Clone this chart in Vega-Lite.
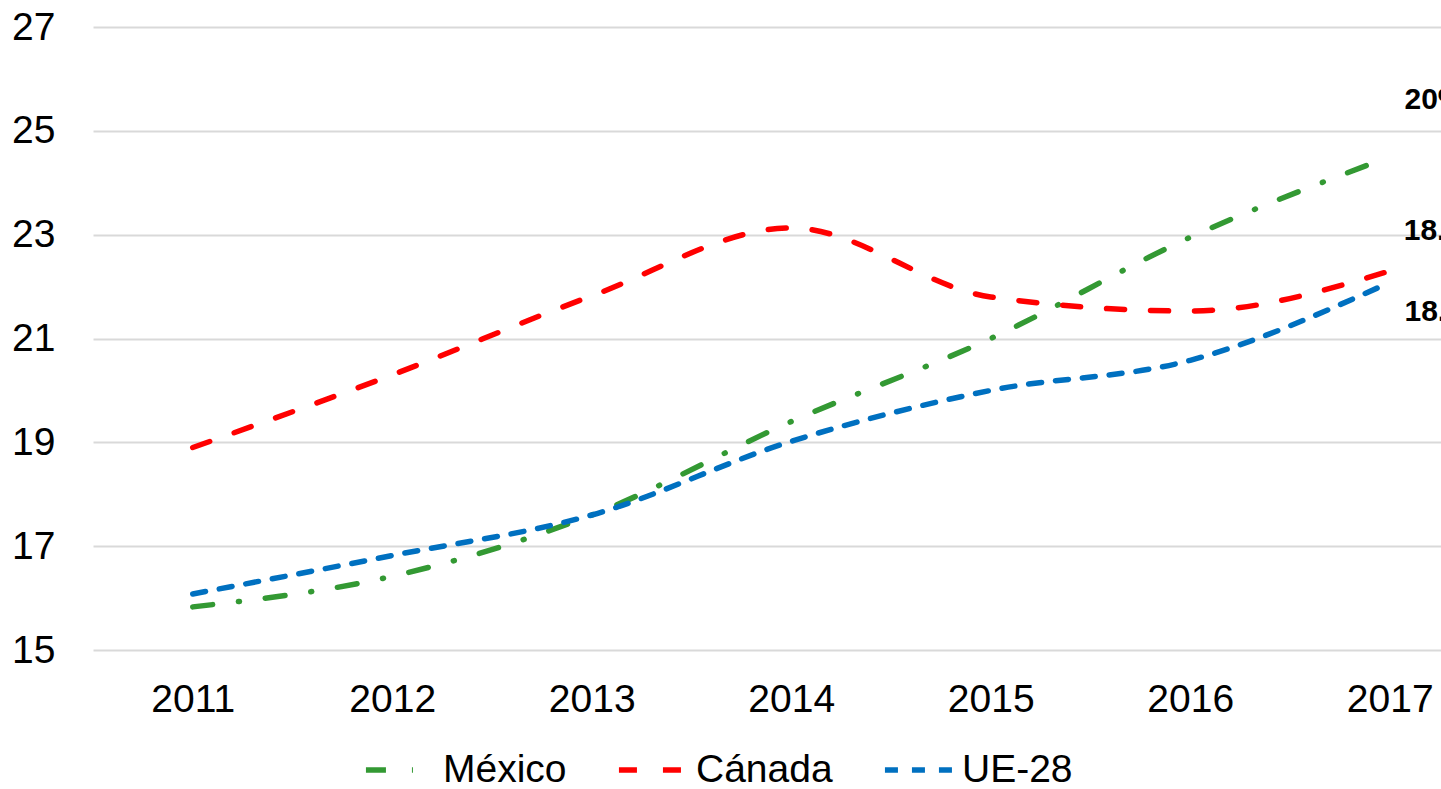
{
  "$schema": "https://vega.github.io/schema/vega-lite/v6.json",
  "width": 1348,
  "height": 623,
  "autosize": {"type": "none"},
  "padding": {"left": 93, "top": 27, "right": 0, "bottom": 139},
  "background": "white",
  "config": {
    "view": {"stroke": null},
    "font": "Liberation Sans"
  },
  "layer": [
    {
      "data": {
        "values": [
          {"anio": 2011, "serie": "México", "valor": 15.83},
          {"anio": 2012, "serie": "México", "valor": 16.42},
          {"anio": 2013, "serie": "México", "valor": 17.6},
          {"anio": 2014, "serie": "México", "valor": 19.4},
          {"anio": 2015, "serie": "México", "valor": 21.0},
          {"anio": 2016, "serie": "México", "valor": 22.95},
          {"anio": 2017, "serie": "México", "valor": 24.5},
          {"anio": 2011, "serie": "Cánada", "valor": 18.9},
          {"anio": 2012, "serie": "Cánada", "valor": 20.3},
          {"anio": 2013, "serie": "Cánada", "valor": 21.82},
          {"anio": 2014, "serie": "Cánada", "valor": 23.13},
          {"anio": 2015, "serie": "Cánada", "valor": 21.8},
          {"anio": 2016, "serie": "Cánada", "valor": 21.53},
          {"anio": 2017, "serie": "Cánada", "valor": 22.3},
          {"anio": 2011, "serie": "UE-28", "valor": 16.08},
          {"anio": 2012, "serie": "UE-28", "valor": 16.82},
          {"anio": 2013, "serie": "UE-28", "valor": 17.6},
          {"anio": 2014, "serie": "UE-28", "valor": 19.02},
          {"anio": 2015, "serie": "UE-28", "valor": 20.0},
          {"anio": 2016, "serie": "UE-28", "valor": 20.58},
          {"anio": 2017, "serie": "UE-28", "valor": 22.08}
        ]
      },
      "mark": {"type": "line", "strokeWidth": 5.5, "strokeCap": "round", "interpolate": "monotone"},
      "encoding": {
        "x": {
          "field": "anio", "type": "quantitative",
          "scale": {"domain": [2010.5, 2017.257], "nice": false, "zero": false},
          "axis": {
            "title": null, "values": [2011, 2012, 2013, 2014, 2015, 2016, 2017], "format": "d",
            "grid": false, "domain": false, "ticks": false,
            "labelFontSize": 39, "labelColor": "#000000", "labelPadding": 30,
            "labelFlush": false, "labelOverlap": false
          }
        },
        "y": {
          "field": "valor", "type": "quantitative",
          "scale": {"domain": [15, 27], "nice": false, "zero": false},
          "axis": {
            "title": null, "values": [15, 17, 19, 21, 23, 25, 27],
            "grid": true, "gridColor": "#d9d9d9", "gridWidth": 2,
            "domain": false, "ticks": false,
            "labelFontSize": 39, "labelColor": "#000000", "labelPadding": 38,
            "labelFlush": false, "labelOverlap": false
          }
        },
        "color": {
          "field": "serie", "type": "nominal",
          "scale": {"domain": ["México", "Cánada", "UE-28"], "range": ["#339933", "#ff0000", "#0070c0"]},
          "legend": {
            "title": null, "orient": "none", "direction": "horizontal",
            "legendX": 270, "legendY": 704,
            "symbolType": "stroke", "symbolSize": 5200, "symbolStrokeWidth": 5.5,
            "labelFontSize": 39, "labelColor": "#000000", "labelOffset": 2,
            "columnPadding": 40, "symbolOffset": 0
          }
        },
        "strokeDash": {
          "field": "serie", "type": "nominal",
          "scale": {"domain": ["México", "Cánada", "UE-28"], "range": [[20, 26, 1, 26], [18, 26], [13, 14]]},
          "legend": {
            "title": null, "orient": "none", "direction": "horizontal",
            "legendX": 270, "legendY": 704,
            "symbolType": "stroke", "symbolSize": 5200, "symbolStrokeWidth": 5.5,
            "labelFontSize": 39, "labelColor": "#000000", "labelOffset": 2,
            "columnPadding": 40, "symbolOffset": 0
          }
        }
      }
    },
    {
      "data": {
        "values": [
          {"x": 2017.074, "y": 25.59, "texto": "20%"},
          {"x": 2017.07, "y": 23.07, "texto": "18.4%"},
          {"x": 2017.074, "y": 21.51, "texto": "18.2%"}
        ]
      },
      "mark": {"type": "text", "align": "left", "baseline": "middle", "fontSize": 30, "fontWeight": "bold", "font": "Liberation Sans", "color": "#000000", "clip": false},
      "encoding": {
        "x": {"field": "x", "type": "quantitative"},
        "y": {"field": "y", "type": "quantitative"},
        "text": {"field": "texto"}
      }
    }
  ]
}
